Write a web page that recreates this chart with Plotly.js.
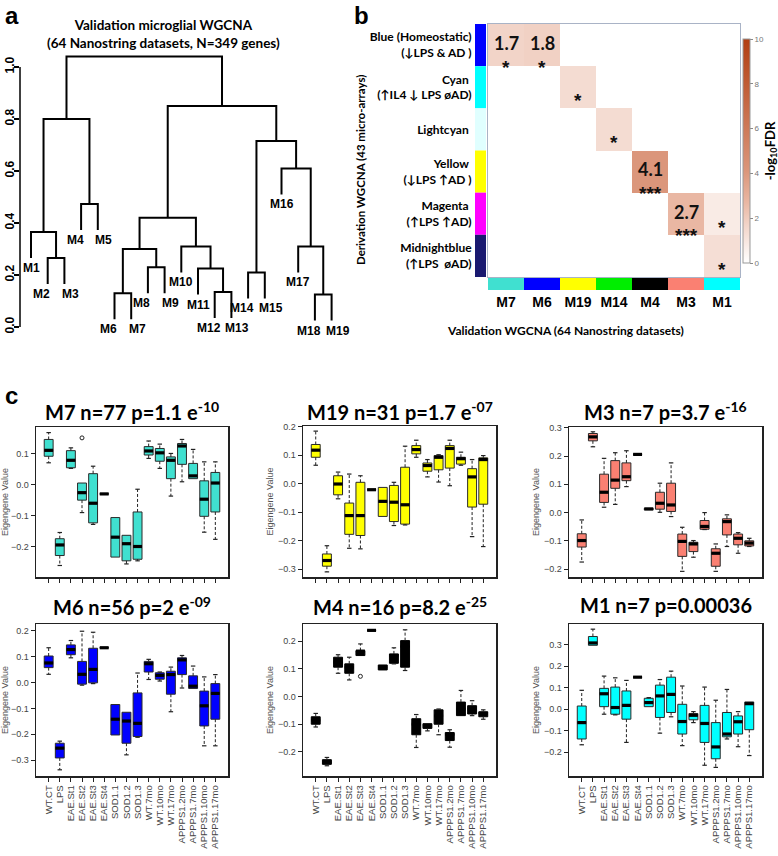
<!DOCTYPE html>
<html><head><meta charset="utf-8">
<script src="https://cdn.plot.ly/plotly-3.0.1.min.js"></script>
<style>html,body{margin:0;padding:0;background:#fff}</style>
</head><body><div id="chart" style="width:778px;height:856px"></div>
<script>
// ===== Panel a: dendrogram =====
const leafLabels = ['M1','M2','M3','M4','M5','M6','M7','M8','M9','M10','M11','M12','M13','M14','M15','M16','M17','M18','M19'];
const mergeLeft   = [-2, -1, -4, 2, -6, -8, 5, -12, -11, -10, 7, -14, -18, -17, -16, 12, 11, 4];
const mergeRight  = [-3,  1, -5, 3, -7, -9, 6, -13,   8,   9, 10, -15, -19, 13, 14, 15, 16, 17];
const mergeHeight = [0.265,0.365,0.473,0.80,0.13,0.23,0.30,0.135,0.225,0.31,0.42,0.21,0.125,0.31,0.61,0.715,0.85,1.04];
const dendroTicks = [0,0.2,0.4,0.6,0.8,1.0];

// ===== Panel b: module overlap heatmap =====
const validModules = ['M7','M6','M19','M14','M4','M3','M1'];
const validColors  = ['#40E0D0','#0000FF','#FFFF00','#00EE00','#000000','#FA8072','#00FFFF'];
const derivModules = ['Blue','Cyan','Lightcyan','Yellow','Magenta','Midnightblue'];
const derivLabels  = ['Blue (Homeostatic)<br>(↓LPS &amp; AD )','Cyan <br>(↑IL4 ↓ LPS øAD)','Lightcyan ','Yellow <br>(↓LPS ↑AD )','Magenta <br>(↑LPS ↑AD)','Midnightblue<br>(↑LPS  øAD)'];
const derivColors  = ['#0000FF','#00FFFF','#E0FFFF','#FFFF00','#FF00FF','#191970'];
const sigRow    = ['Blue','Blue','Cyan','Lightcyan','Yellow','Magenta','Magenta','Midnightblue'];
const sigCol    = ['M7','M6','M19','M14','M4','M3','M1','M1'];
const sigLogFDR = [1.7,1.8,1.4,1.4,4.1,2.7,0.8,1.3];
const sigLabel  = ['1.7','1.8','','','4.1','2.7','',''];
const sigStars  = ['*','*','*','*','***','***','*','*'];
const fdrTicks  = [0,2,4,6,8,10];

// ===== Panel c: eigengene boxplots =====
const categories = ['WT.CT','LPS','EAE.St1','EAE.St2','EAE.St3','EAE.St4','SOD1.1','SOD1.2','SOD1.3','WT.7mo','WT.10mo','WT.17mo','APPPS1.2mo','APPPS1.7mo','APPPS1.10mo','APPPS1.17mo'];
const panelTitles = ['M7 n=77 p=1.1 e<sup>-10</sup>','M19 n=31 p=1.7 e<sup>-07</sup>','M3 n=7 p=3.7 e<sup>-16</sup>','M6 n=56 p=2 e<sup>-09</sup>','M4 n=16 p=8.2 e<sup>-25</sup>','M1 n=7 p=0.00036'];

const m7Lower = [0.07,-0.26,0.052,-0.09,-0.128,-0.03,-0.233,-0.255,-0.245,0.084,0.052,-0.037,0.009,0.019,-0.153,-0.176];
const m7Q1    = [0.091,-0.228,0.054,-0.05,-0.123,-0.03,-0.233,-0.245,-0.24,0.095,0.075,0.019,0.065,0.019,-0.102,-0.088];
const m7Med   = [0.11,-0.194,0.078,-0.026,-0.06,-0.03,-0.169,-0.19,-0.199,0.108,0.102,0.078,0.124,0.028,-0.047,0.005];
const m7Q3    = [0.145,-0.174,0.109,0.005,0.035,-0.03,-0.106,-0.163,-0.088,0.122,0.116,0.089,0.132,0.068,0.012,0.039];
const m7Upper = [0.167,-0.154,0.118,0.005,0.059,-0.03,-0.106,-0.163,-0.015,0.14,0.13,0.1,0.145,0.113,0.073,0.073];
const m7OutCat = ['EAE.St2']; const m7OutVal = [0.15];

const m19Lower = [0.065,-0.31,-0.053,-0.227,-0.229,-0.021,-0.115,-0.147,-0.145,0.093,0.024,0.006,-0.007,0.065,-0.186,-0.221];
const m19Q1    = [0.093,-0.29,-0.039,-0.178,-0.182,-0.021,-0.115,-0.133,-0.142,0.105,0.044,0.049,0.055,0.069,-0.082,-0.072];
const m19Med   = [0.118,-0.27,-0.001,-0.112,-0.112,-0.021,-0.062,-0.065,-0.074,0.12,0.064,0.093,0.124,0.088,0.024,0.085];
const m19Q3    = [0.138,-0.247,0.028,-0.068,0.005,-0.021,-0.013,-0.006,0.058,0.134,0.073,0.099,0.134,0.093,0.053,0.091];
const m19Upper = [0.185,-0.218,0.041,0.034,0.028,-0.021,-0.013,0.005,0.132,0.153,0.085,0.102,0.153,0.111,0.085,0.099];
const m19OutCat = []; const m19OutVal = [];

const m3Lower = [-0.175,0.233,0.019,0.029,0.092,0.206,0.01,0.001,-0.014,-0.208,-0.158,-0.06,-0.208,-0.12,-0.144,-0.12];
const m3Q1    = [-0.122,0.254,0.036,0.086,0.113,0.206,0.01,0.012,0.004,-0.155,-0.138,-0.059,-0.19,-0.079,-0.114,-0.118];
const m3Med   = [-0.099,0.268,0.072,0.115,0.127,0.206,0.013,0.033,0.027,-0.102,-0.111,-0.049,-0.144,-0.032,-0.091,-0.108];
const m3Q3    = [-0.075,0.28,0.136,0.184,0.176,0.206,0.015,0.072,0.104,-0.076,-0.105,-0.028,-0.128,-0.022,-0.076,-0.1];
const m3Upper = [-0.026,0.286,0.192,0.212,0.219,0.206,0.015,0.104,0.176,-0.052,-0.099,0.0,-0.111,-0.008,-0.071,-0.091];
const m3OutCat = []; const m3OutVal = [];

const m6Lower = [0.032,-0.338,0.096,-0.01,-0.004,0.135,-0.203,-0.28,-0.212,0.012,0.006,-0.113,-0.021,-0.023,-0.245,-0.245];
const m6Q1    = [0.058,-0.292,0.108,-0.006,-0.001,0.135,-0.203,-0.235,-0.209,0.041,0.013,-0.045,0.031,-0.023,-0.168,-0.142];
const m6Med   = [0.076,-0.254,0.128,0.032,0.051,0.135,-0.142,-0.149,-0.158,0.073,0.028,0.031,0.088,-0.014,-0.09,-0.042];
const m6Q3    = [0.103,-0.235,0.146,0.082,0.133,0.135,-0.085,-0.115,-0.04,0.082,0.038,0.044,0.096,0.026,-0.033,-0.004];
const m6Upper = [0.135,-0.227,0.163,0.199,0.195,0.135,-0.085,-0.115,0.037,0.09,0.041,0.06,0.105,0.064,0.022,0.031];
const m6OutCat = []; const m6OutVal = [];

const m4Lower = [-0.11,-0.25,0.084,0.06,0.148,0.239,0.096,0.118,0.094,-0.184,-0.124,-0.138,-0.183,-0.069,-0.069,-0.082];
const m4Q1    = [-0.1,-0.245,0.106,0.084,0.148,0.239,0.096,0.12,0.106,-0.138,-0.115,-0.1,-0.159,-0.069,-0.063,-0.073];
const m4Med   = [-0.085,-0.237,0.124,0.106,0.164,0.239,0.106,0.148,0.181,-0.1,-0.105,-0.07,-0.137,-0.045,-0.045,-0.061];
const m4Q3    = [-0.073,-0.228,0.142,0.118,0.166,0.239,0.114,0.154,0.202,-0.08,-0.098,-0.048,-0.13,-0.02,-0.033,-0.055];
const m4Upper = [-0.061,-0.22,0.151,0.142,0.19,0.239,0.114,0.176,0.241,-0.065,-0.098,-0.045,-0.12,0.022,-0.015,-0.048];
const m4OutCat = ['EAE.St3']; const m4OutVal = [0.073];

const m1Lower = [-0.165,0.297,-0.023,-0.026,-0.154,0.149,0.012,-0.111,-0.035,-0.169,-0.062,-0.26,-0.27,-0.138,-0.174,-0.215];
const m1Q1    = [-0.138,0.297,0.012,-0.023,-0.046,0.149,0.012,-0.038,-0.015,-0.115,-0.049,-0.154,-0.23,-0.128,-0.115,-0.095];
const m1Med   = [-0.062,0.308,0.072,0.008,0.018,0.149,0.031,0.062,0.069,-0.057,-0.028,-0.066,-0.175,-0.115,-0.058,0.026];
const m1Q3    = [0.015,0.338,0.097,0.103,0.085,0.149,0.051,0.112,0.149,0.023,-0.02,0.018,-0.062,-0.015,-0.031,0.034];
const m1Upper = [0.088,0.372,0.154,0.146,0.134,0.149,0.054,0.138,0.177,0.108,-0.011,0.103,0.042,0.092,-0.011,0.034];
const m1OutCat = []; const m1OutVal = [];

// ================= drawing =================
const W = 778, H = 856;
const px = v => v / W, py = v => 1 - v / H;
const FT = 'Lato, "Open Sans", sans-serif';
const FA = '"Liberation Sans", Arial, sans-serif';
const traces = [], annotations = [], shapes = [];
const layout = {
  width: W, height: H, margin: {l:0, r:0, t:0, b:0, pad:0, autoexpand:false},
  paper_bgcolor: '#ffffff', plot_bgcolor: 'rgba(0,0,0,0)',
  showlegend: false, boxmode: 'overlay',
  font: {family: FA, color: '#000'}
};

// ---- dendrogram ----
const HANG = 0.1;
const nodeX = [];
const leafEnd = new Array(leafLabels.length);
const leafShift = new Array(leafLabels.length).fill(0);
const cx = c => c < 0 ? -c : nodeX[c - 1];
const ch = (c, h) => {
  if (c < 0) { leafEnd[-c - 1] = h - HANG; return h - HANG; }
  return mergeHeight[c - 1];
};
const dX = [], dY = [];
mergeLeft.forEach((l, i) => {
  const r = mergeRight[i], h = mergeHeight[i];
  const xl = cx(l), xr = cx(r);
  nodeX.push((xl + xr) / 2);
  if (l < 0 && r < 0) { leafShift[-l - 1] = -6; leafShift[-r - 1] = 6; }
  dX.push(xl, xl, xr, xr, null);
  dY.push(ch(l, h), h, h, ch(r, h), null);
});
traces.push({type:'scatter', mode:'lines', x:dX, y:dY, xaxis:'x', yaxis:'y',
  line:{color:'#000', width:2}, hoverinfo:'skip'});
leafLabels.forEach((lab, i) => {
  annotations.push({xref:'x', yref:'y', x:i + 1, y:leafEnd[i], yanchor:'top', xanchor:'center',
    xshift:leafShift[i], yshift:-1, text:'<b>' + lab + '</b>', showarrow:false,
    font:{family:FA, size:12, color:'#000'}});
});
const dScale = 16.7, dMin = 1 - 11 / dScale;
layout.xaxis = {domain:[px(20), px(345)], range:[dMin, dMin + 325 / dScale], visible:false, anchor:'y'};
layout.yaxis = {domain:[py(335), py(40)], range:[(327 - 335) / 260, (327 - 40) / 260], anchor:'x',
  tickvals: dendroTicks, ticktext: dendroTicks.map(v => '<b>' + v.toFixed(1) + '</b>'),
  tickangle:-90, ticks:'outside', ticklen:5, tickwidth:1.5, tickcolor:'#000', ticklabelstandoff:-5,
  tickfont:{family:FA, size:12, color:'#000'}, showline:false, showgrid:false, zeroline:false};
shapes.push({type:'line', xref:'paper', yref:'y', x0:px(20), x1:px(20), y0:0, y1:1, line:{color:'#000', width:1.5}});
annotations.push({xref:'paper', yref:'paper', x:px(163), y:py(34), xanchor:'center', yanchor:'middle',
  text:'<b>Validation microglial WGCNA<br>(64 Nanostring datasets, N=349 genes)</b>', showarrow:false,
  font:{family:FT, size:13.5, color:'#000'}});

// ---- heatmap ----
const z = derivModules.map(r => validModules.map(c => null));
sigRow.forEach((r, k) => {
  const i = derivModules.indexOf(r), j = validModules.indexOf(sigCol[k]);
  z[i][j] = sigLogFDR[k];
  if (sigLabel[k]) {
    annotations.push({xref:'x2', yref:'y2', x:sigCol[k], y:i - 0.05, text:'<b>' + sigLabel[k] + '</b>',
      showarrow:false, font:{family:FT, size:18, color:'#111'}});
  }
  annotations.push({xref:'x2', yref:'y2', x:sigCol[k], y:i + (sigLabel[k] ? 0.52 : 0.32),
    text:'<b>' + sigStars[k] + '</b>', showarrow:false, font:{family:FA, size:19, color:'#111'}});
});
traces.push({type:'heatmap', x:validModules, y:derivModules, z:z, xaxis:'x2', yaxis:'y2',
  zmin:0, zmax:10, hoverinfo:'skip',
  colorscale:[[0,'rgb(255,255,255)'],[0.17,'rgb(242,212,200)'],[0.27,'rgb(233,183,163)'],[0.41,'rgb(219,150,123)'],[1,'rgb(178,62,18)']],
  colorbar:{x:px(743), xanchor:'left', y:py(263), yanchor:'bottom', len:(263 - 39) / H, lenmode:'fraction',
    thickness:7, thicknessmode:'pixels', xpad:0, ypad:0, outlinewidth:1, outlinecolor:'#999',
    tickvals:fdrTicks, ticks:'outside', ticklen:3, tickcolor:'#888', tickfont:{family:FA, size:8, color:'#777'},
    title:{text:'<b>-log<sub>10</sub>FDR</b>', side:'right', font:{family:FT, size:13, color:'#000'}}}});
layout.xaxis2 = {domain:[px(488), px(740)], anchor:'y2', type:'category', range:[-0.5, 6.5],
  ticks:'outside', ticklen:12, tickcolor:'rgba(0,0,0,0)', tickfont:{family:FA, size:14, color:'#000'},
  ticktext: validModules.map(m => '<b>' + m + '</b>'), tickvals: validModules,
  showline:true, mirror:true, linecolor:'#a9b3c6', linewidth:1, showgrid:false, zeroline:false};
layout.yaxis2 = {domain:[py(277), py(24)], anchor:'x2', type:'category', range:[5.5, -0.5],
  ticks:'outside', ticklen:13, tickcolor:'rgba(0,0,0,0)', tickfont:{family:FT, size:12, color:'#000'},
  tickvals: derivModules, ticktext: derivLabels.map(t => '<b>' + t + '</b>'),
  showline:true, mirror:true, linecolor:'#a9b3c6', linewidth:1, showgrid:false, zeroline:false};
derivColors.forEach((c, i) => shapes.push({type:'rect', xref:'paper', yref:'y2', x0:px(475), x1:px(486),
  y0:i - 0.5, y1:i + 0.5, fillcolor:c, line:{width:0}, layer:'above'}));
validColors.forEach((c, j) => shapes.push({type:'rect', xref:'x2', yref:'paper', x0:j - 0.5, x1:j + 0.5,
  y0:py(290), y1:py(278), fillcolor:c, line:{width:0}, layer:'above'}));
annotations.push({xref:'paper', yref:'paper', x:px(360), y:py(170), textangle:-90, xanchor:'center', yanchor:'middle',
  text:'<b>Derivation WGCNA (43 micro-arrays)</b>', showarrow:false, font:{family:FT, size:11.5, color:'#000'}});
annotations.push({xref:'paper', yref:'paper', x:px(565), y:py(330), xanchor:'center', yanchor:'middle',
  text:'<b>Validation WGCNA (64 Nanostring datasets)</b>', showarrow:false, font:{family:FT, size:12, color:'#000'}});

// ---- panel labels ----
[['a',3,0],['b',352,0],['c',3,380]].forEach(([t, x, y]) => annotations.push({xref:'paper', yref:'paper',
  x:px(x), y:py(y), xanchor:'left', yanchor:'top', text:'<b>' + t + '</b>', showarrow:false,
  font:{family:FA, size:24, color:'#000'}}));

// ---- boxplots ----
const panels = [
  {lo:m7Lower, q1:m7Q1, md:m7Med, q3:m7Q3, up:m7Upper, oc:m7OutCat, ov:m7OutVal, color:'#40E0D0', dom:[36,228,427,577], range:[-0.297,0.185], ticks:[-0.2,-0.1,0,0.1], lab:false, ty:411},
  {lo:m19Lower, q1:m19Q1, md:m19Med, q3:m19Q3, up:m19Upper, oc:m19OutCat, ov:m19OutVal, color:'#FFFF00', dom:[303,496,426,577], range:[-0.328,0.203], ticks:[-0.3,-0.2,-0.1,0,0.1,0.2], lab:false, ty:411},
  {lo:m3Lower, q1:m3Q1, md:m3Med, q3:m3Q3, up:m3Upper, oc:m3OutCat, ov:m3OutVal, color:'#FA8072', dom:[569,762,427,577], range:[-0.228,0.303], ticks:[-0.2,-0.1,0,0.1,0.2,0.3], lab:false, ty:411},
  {lo:m6Lower, q1:m6Q1, md:m6Med, q3:m6Q3, up:m6Upper, oc:m6OutCat, ov:m6OutVal, color:'#0000FF', dom:[36,228,624,776], range:[-0.362,0.227], ticks:[-0.3,-0.2,-0.1,0,0.1,0.2], lab:true, ty:606},
  {lo:m4Lower, q1:m4Q1, md:m4Med, q3:m4Q3, up:m4Upper, oc:m4OutCat, ov:m4OutVal, color:'#000000', dom:[303,496,624,776], range:[-0.287,0.262], ticks:[-0.2,-0.1,0,0.1,0.2], lab:true, ty:606},
  {lo:m1Lower, q1:m1Q1, md:m1Med, q3:m1Q3, up:m1Upper, oc:m1OutCat, ov:m1OutVal, color:'#00FFFF', dom:[569,762,624,776], range:[-0.31,0.396], ticks:[-0.2,-0.1,0,0.1,0.2,0.3], lab:true, ty:605}
];
const xs = categories.map((c, i) => i + 1);
const BW = 0.8, CAP = 0.2;
panels.forEach((p, k) => {
  const n = k + 3, xa = 'x' + n, ya = 'y' + n;
  const edge = p.color === '#000000' ? '#000' : '#2a2a2a';
  traces.push({type:'box', xaxis:xa, yaxis:ya, x:xs, q1:p.q1, median:p.md, q3:p.q3,
    lowerfence:p.q1, upperfence:p.q3, width:BW, fillcolor:p.color, line:{color:edge, width:1},
    whiskerwidth:0, boxpoints:false, hoverinfo:'skip'});
  const wx = [], wy = [], cxs = [], cys = [], mx = [], my = [];
  xs.forEach((x, i) => {
    if (p.up[i] > p.q3[i]) { wx.push(x, x, null); wy.push(p.q3[i], p.up[i], null);
      cxs.push(x - CAP, x + CAP, null); cys.push(p.up[i], p.up[i], null); }
    if (p.lo[i] < p.q1[i]) { wx.push(x, x, null); wy.push(p.q1[i], p.lo[i], null);
      cxs.push(x - CAP, x + CAP, null); cys.push(p.lo[i], p.lo[i], null); }
    mx.push(x - BW / 2, x + BW / 2, null); my.push(p.md[i], p.md[i], null);
  });
  traces.push({type:'scatter', mode:'lines', xaxis:xa, yaxis:ya, x:wx, y:wy,
    line:{color:'#222', width:1, dash:'3px,2px'}, hoverinfo:'skip'});
  traces.push({type:'scatter', mode:'lines', xaxis:xa, yaxis:ya, x:cxs, y:cys,
    line:{color:'#222', width:1.2}, hoverinfo:'skip'});
  traces.push({type:'scatter', mode:'lines', xaxis:xa, yaxis:ya, x:mx, y:my,
    line:{color:'#000', width:3.2}, hoverinfo:'skip'});
  if (p.oc.length) traces.push({type:'scatter', mode:'markers', xaxis:xa, yaxis:ya,
    x:p.oc.map(c => categories.indexOf(c) + 1), y:p.ov,
    marker:{symbol:'circle-open', size:4, color:'#222', line:{width:1}}, hoverinfo:'skip'});
  const d = p.dom;
  layout['xaxis' + n] = {domain:[px(d[0]), px(d[1])], anchor:ya, range:[-0.14, 17.14],
    tickvals:xs, ticktext:categories, showticklabels:p.lab, tickangle:-90,
    ticks:'outside', ticklen:4, tickcolor:'#222', tickfont:{family:FA, size:9.5, color:'#444'},
    showline:true, mirror:true, linecolor:'#222', linewidth:1.5, showgrid:false, zeroline:false};
  layout['yaxis' + n] = {domain:[py(d[3]), py(d[2])], anchor:xa, range:p.range,
    tickvals:p.ticks, tickformat:'.1f', ticks:'outside', ticklen:4, tickcolor:'#222',
    tickfont:{family:FA, size:9, color:'#444'},
    showline:true, mirror:true, linecolor:'#222', linewidth:1.5, showgrid:false, zeroline:false,
    title:{text:'Eigengene Value', font:{family:FA, size:9, color:'#555'}, standoff:3}};
  annotations.push({xref:'paper', yref:'paper', x:px((d[0] + d[1]) / 2), y:py(p.ty), xanchor:'center', yanchor:'middle',
    text:'<b>' + panelTitles[k] + '</b>', showarrow:false, font:{family:FT, size:20, color:'#000'}});
});

layout.annotations = annotations;
layout.shapes = shapes;
Plotly.newPlot('chart', traces, layout, {staticPlot:true, displayModeBar:false});
</script></body></html>
